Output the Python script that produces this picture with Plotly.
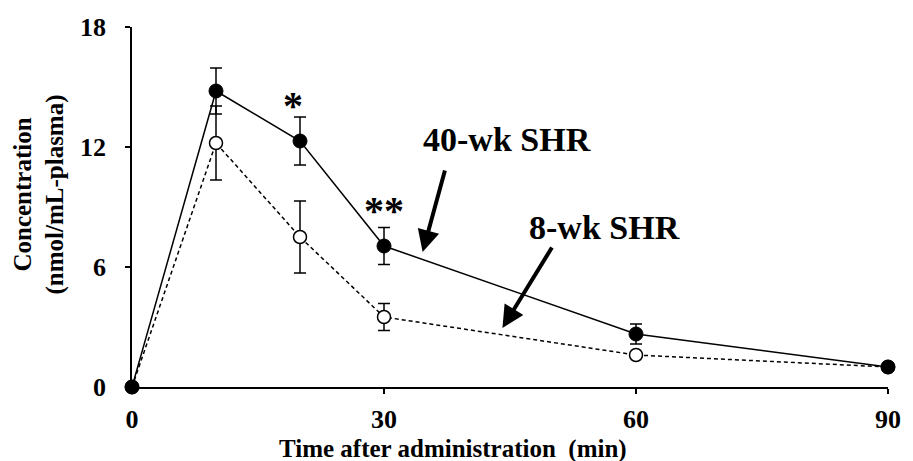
import plotly.graph_objects as go

# Sampling times (min)
time_min = [0, 10, 20, 30, 60, 90]

# 40-week SHR: mean plasma concentration and SE
shr40_mean = [0.0, 14.8, 12.3, 7.05, 2.65, 1.0]
shr40_err = [0.0, 1.15, 1.2, 0.93, 0.5, 0.0]

# 8-week SHR: mean plasma concentration and SE
shr8_mean = [0.0, 12.2, 7.5, 3.5, 1.6, 1.0]
shr8_err = [0.0, 1.85, 1.8, 0.67, 0.0, 0.0]

x_ticks = [0, 30, 60, 90]
y_ticks = [0, 6, 12, 18]

FONT = "Liberation Serif"
W, H = 913, 461
ML, MR, MT, MB = 132, 16, 27, 74

fig = go.Figure()

fig.add_trace(go.Scatter(
    x=time_min, y=shr8_mean, mode="lines+markers", name="8-wk SHR",
    line=dict(color="black", width=1.5, dash="4px,3px"),
    marker=dict(symbol="circle", size=13, color="white",
                line=dict(color="black", width=1.5)),
    error_y=dict(type="data", array=shr8_err, visible=True,
                 color="black", thickness=1.5, width=6),
    cliponaxis=False,
))

fig.add_trace(go.Scatter(
    x=time_min, y=shr40_mean, mode="lines+markers", name="40-wk SHR",
    line=dict(color="black", width=1.5),
    marker=dict(symbol="circle", size=14, color="black",
                line=dict(color="black", width=1)),
    error_y=dict(type="data", array=shr40_err, visible=True,
                 color="black", thickness=1.5, width=6),
    cliponaxis=False,
))

bold = dict(family=FONT, color="black", weight="bold")

annotations = [
    # group labels with arrows pointing to each curve
    dict(x=44.6, y=12.4, text="40-wk SHR", showarrow=False,
         font=dict(size=34, **bold)),
    dict(x=56.3, y=8.0, text="8-wk SHR", showarrow=False,
         font=dict(size=34, **bold)),
    dict(x=34.6, y=6.75, ax=37.3, ay=10.9, axref="x", ayref="y",
         text="", showarrow=True, arrowhead=2, arrowsize=1.1,
         arrowwidth=4, arrowcolor="black"),
    dict(x=44.1, y=2.95, ax=50.1, ay=7.05, axref="x", ayref="y",
         text="", showarrow=True, arrowhead=2, arrowsize=1.1,
         arrowwidth=4, arrowcolor="black"),
    # significance markers
    dict(x=20, y=14.1, xshift=-7, text="*", showarrow=False,
         font=dict(size=40, **bold)),
    dict(x=30, y=8.85, text="**", showarrow=False,
         font=dict(size=40, **bold)),
    # axis titles
    dict(xref="paper", yref="paper", x=0.425, y=-0.172,
         text="Time after administration&nbsp; (min)", showarrow=False,
         xanchor="center", yanchor="middle", font=dict(size=25, **bold)),
    dict(xref="paper", yref="paper", x=-0.1229, y=0.535,
         text="Concentration<br>(nmol/mL-plasma)", showarrow=False,
         textangle=-90, xanchor="center", yanchor="middle",
         font=dict(size=25, **bold)),
]

fig.update_layout(
    width=W, height=H,
    margin=dict(l=ML, r=MR, t=MT, b=MB),
    paper_bgcolor="white", plot_bgcolor="white",
    showlegend=False,
    annotations=annotations,
)

fig.update_xaxes(
    range=[0, 90], tickvals=x_ticks, showgrid=False, zeroline=False,
    showline=True, linecolor="black", linewidth=1.5,
    ticks="outside", ticklen=5, tickwidth=1.5, tickcolor="black",
    tickfont=dict(size=26, **bold), ticklabelstandoff=3,
)
fig.update_yaxes(
    range=[0, 18], tickvals=y_ticks, showgrid=False, zeroline=False,
    showline=True, linecolor="black", linewidth=1.5,
    ticks="outside", ticklen=5, tickwidth=1.5, tickcolor="black",
    tickfont=dict(size=26, **bold), ticklabelstandoff=14,
)

fig.write_html("out.html")
